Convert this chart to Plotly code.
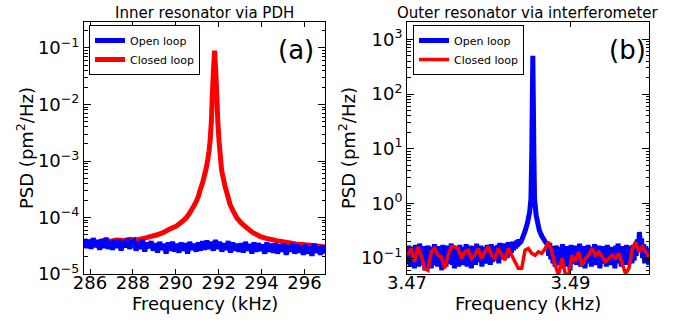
import numpy as np
import plotly.graph_objects as go

# ---------------- Panel (a): inner resonator via PDH ----------------
a_open_f_span = (285.75, 296.95)          # uniform frequency bins (kHz)
a_open_psd_e6 = [                          # PSD in 1e-6 pm^2/Hz
    42, 29, 40, 28, 43, 30, 39, 27, 41, 29, 44, 28, 38,
    27, 40, 29, 41, 26, 38, 30, 42, 28, 37,
    39, 26, 37, 28, 40, 25, 36, 29, 38, 26,
    35, 24, 37, 27, 34, 23, 36, 26, 37, 25,
    34, 24, 36, 26, 35, 23, 37, 27, 34, 25,
    36, 26, 38, 27, 39, 28, 37, 26, 40, 28,
    37, 25, 35, 27, 38, 24, 36, 26, 34, 25,
    35, 24, 37, 26, 34, 23, 36, 25, 35, 26,
    33, 23, 36, 25, 34, 24, 35, 23, 33, 25,
    34, 22, 32, 25, 35, 23, 33, 24, 32, 22,
    33, 23, 31, 21, 34, 24, 30, 22, 32, 23,
]

a_closed_f = [
    285.75, 286.05, 286.35, 286.65, 286.95, 287.25, 287.55, 287.85, 288.15,
    288.45, 288.8, 289.1, 289.4, 289.7, 290.04, 290.3, 290.5, 290.65, 290.8,
    290.9, 291.0, 291.06, 291.13, 291.25, 291.36, 291.43, 291.5, 291.55, 291.6,
    291.66, 291.7, 291.75, 291.81, 291.87, 291.92, 291.96, 292.02, 292.08,
    292.14, 292.22, 292.3, 292.4, 292.53, 292.68, 292.84, 293.05,
    293.3, 293.6, 293.95, 294.3, 294.7, 295.2, 295.6, 296.0, 296.4, 296.95,
]
a_closed_psd = [
    3.6e-5, 3.8e-5, 3.7e-5, 3.9e-5, 3.8e-5, 4.0e-5, 3.9e-5, 4.1e-5, 4.0e-5,
    4.2e-5, 4.6e-5, 4.9e-5, 5.4e-5, 6.2e-5, 7.1e-5, 8.5e-5, 1.0e-4, 1.2e-4, 1.5e-4,
    1.75e-4, 2.1e-4, 2.4e-4, 3.0e-4, 4.1e-4, 6.0e-4, 7.8e-4, 1.1e-3, 1.5e-3, 2.2e-3,
    5.0e-3, 1.3e-2, 3.5e-2, 9.0e-2, 3.5e-2, 1.3e-2, 5.0e-3, 2.2e-3, 1.2e-3,
    6.8e-4, 4.9e-4, 3.5e-4, 2.6e-4, 1.7e-4, 1.3e-4, 1.0e-4, 8.0e-5,
    6.6e-5, 5.4e-5, 4.6e-5, 4.2e-5, 3.9e-5, 3.6e-5, 3.4e-5, 3.3e-5, 3.2e-5, 3.0e-5,
]

# ---------------- Panel (b): outer resonator via interferometer ----------------
b_open_left_span = (3.4700, 3.4838)
b_open_left_e3 = [                         # PSD in 1e-3 pm^2/Hz
    150, 80, 170, 70, 160, 95, 130, 65, 175, 85, 155, 70, 185, 90, 140, 75,
    165, 60, 150, 95, 170, 80, 125, 65, 160, 90, 180, 75, 145, 70, 165, 85,
    135, 60, 175, 95, 155, 70, 170, 80, 140, 90, 185, 75, 150, 65, 165, 100,
    130, 70, 175, 85, 160, 75, 145, 95, 180, 70, 155, 80, 170, 65, 140, 90,
    165, 75, 185, 85, 150, 100, 170, 70, 160, 90, 145, 80, 175, 95, 155, 75,
    180, 85, 165, 100, 150, 90, 175, 80, 190, 105, 160, 95, 185, 110, 170, 100,
    195, 115, 180, 125, 200, 140, 190, 150, 210, 170, 220, 190,
]
b_open_peak_f = [
    3.48395, 3.48420, 3.48447, 3.48475, 3.48500, 3.48516, 3.48526, 3.48533,
    3.48539, 3.48545, 3.48552, 3.48560, 3.48580, 3.48619, 3.48650, 3.48690,
]
b_open_peak = [
    0.2, 0.25, 0.32, 0.45, 0.7, 1.2, 8.0, 80.0,
    500.0, 80.0, 8.0, 1.2, 0.6, 0.32, 0.25, 0.2,
]
b_open_right_span = (3.4872, 3.4996)
b_open_right_e3 = [
    175, 110, 190, 95, 165, 80, 155, 70, 170, 90, 145, 75, 160, 65, 180, 85,
    140, 70, 165, 95, 150, 60, 175, 80, 135, 90, 170, 75, 155, 85, 185, 70,
    145, 95, 165, 65, 150, 80, 175, 90, 140, 70, 160, 85, 180, 75, 150, 95,
    170, 65, 145, 80, 165, 90, 155, 70, 175, 85, 135, 75, 160, 95, 150, 65,
    170, 80, 185, 90, 145, 70, 165, 100, 155, 75, 175, 85, 150, 95, 165, 80,
    175, 90, 160, 110, 220, 130, 300, 150, 230, 100, 180, 80, 165, 95, 150, 75,
]

b_closed_f_span = (3.4701, 3.4996)
b_closed_e3 = [
    113, 150, 86, 161, 113, 65, 60, 130, 150, 113, 106, 65, 113, 161, 161, 150,
    99, 130, 140, 99, 113, 150, 99, 130, 161, 113, 99, 150, 113, 92, 150, 113,
    86, 65, 65, 140, 150,
    122, 113, 130, 122, 150, 198, 130, 74, 49, 99, 52, 49, 113, 86, 130, 74,
    99, 113, 150, 113, 130, 106, 86, 99, 113, 99, 122, 80, 52, 65, 150, 198,
    130, 161, 130, 106,
]

# ---------------- build series ----------------
a_open_f = np.linspace(*a_open_f_span, len(a_open_psd_e6))
a_open_psd = np.array(a_open_psd_e6) * 1e-6

b_open_f = np.concatenate([
    np.linspace(*b_open_left_span, len(b_open_left_e3)),
    np.array(b_open_peak_f),
    np.linspace(*b_open_right_span, len(b_open_right_e3)),
])
b_open_psd = np.concatenate([
    np.array(b_open_left_e3) * 1e-3,
    np.array(b_open_peak),
    np.array(b_open_right_e3) * 1e-3,
])
b_closed_f = np.linspace(*b_closed_f_span, len(b_closed_e3))
b_closed_psd = np.array(b_closed_e3) * 1e-3

BLUE = "#0000ff"
RED = "#ff0000"
FONT = "DejaVu Sans"
W, H = 679, 324

fig = go.Figure()
fig.add_trace(go.Scatter(x=a_closed_f, y=a_closed_psd, mode="lines", name="Closed loop",
                         line=dict(color=RED, width=5, simplify=False), xaxis="x", yaxis="y",
                         legend="legend", legendrank=2))
fig.add_trace(go.Scatter(x=a_open_f, y=a_open_psd, mode="lines", name="Open loop",
                         line=dict(color=BLUE, width=5, simplify=False), xaxis="x", yaxis="y",
                         legend="legend", legendrank=1))
fig.add_trace(go.Scatter(x=b_open_f, y=b_open_psd, mode="lines", name="Open loop",
                         line=dict(color=BLUE, width=5, simplify=False), xaxis="x2", yaxis="y2",
                         legend="legend2", legendrank=1))
fig.add_trace(go.Scatter(x=b_closed_f, y=b_closed_psd, mode="lines", name="Closed loop",
                         line=dict(color=RED, width=3.5, simplify=False), xaxis="x2", yaxis="y2",
                         legend="legend2", legendrank=2))

def minor_vals(e0, e1):
    return [m * 10.0 ** e for e in range(e0, e1 + 1) for m in range(2, 10)]

common_axis = dict(showline=True, linecolor="black", linewidth=1, mirror="allticks",
                   ticks="inside", tickcolor="black", showgrid=False, zeroline=False,
                   automargin=False,
                   tickfont=dict(family=FONT, size=18, color="black"))

y_dom = [50 / H, 302 / H]
fig.update_layout(
    template="none",
    width=W, height=H, margin=dict(l=0, r=0, t=0, b=0, pad=0), autosize=False,
    paper_bgcolor="white", plot_bgcolor="white",
    font=dict(family=FONT, color="black"),
    xaxis=dict(domain=[84 / W, 325 / W], range=[285.72, 296.96], anchor="y",
               tickvals=[286, 288, 290, 292, 294, 296], ticklen=5,
               ticklabelstandoff=-8, **common_axis),
    yaxis=dict(domain=y_dom, type="log", range=[-5.0, -0.54], anchor="x",
               tickvals=[1e-5, 1e-4, 1e-3, 1e-2, 1e-1],
               ticktext=["10<sup>\u22125</sup>", "10<sup>\u22124</sup>", "10<sup>\u22123</sup>",
                         "10<sup>\u22122</sup>", "10<sup>\u22121</sup>"],
               ticklen=7,
               minor=dict(tickvals=minor_vals(-5, -1), ticks="inside", ticklen=3.5,
                          tickcolor="black", showgrid=False),
               **common_axis),
    xaxis2=dict(domain=[407 / W, 649 / W], range=[3.47, 3.4996], anchor="y2",
                tickvals=[3.47, 3.49], ticktext=["3.47", "3.49"], ticklen=5,
                ticklabelstandoff=-8, **common_axis),
    yaxis2=dict(domain=y_dom, type="log", range=[-1.29, 3.316], anchor="x2",
                tickvals=[1e-1, 1e0, 1e1, 1e2, 1e3],
                ticktext=["10<sup>\u22121</sup>", "10<sup>0</sup>", "10<sup>1</sup>",
                          "10<sup>2</sup>", "10<sup>3</sup>"],
                ticklen=7,
                minor=dict(tickvals=minor_vals(-2, 3), ticks="inside", ticklen=3.5,
                           tickcolor="black", showgrid=False),
                **common_axis),
    legend=dict(x=89 / W, y=1 - 25 / H, xanchor="left", yanchor="top",
                bordercolor="black", borderwidth=1, bgcolor="white",
                font=dict(family=FONT, size=11, color="black"), tracegroupgap=0,
                itemwidth=30),
    legend2=dict(x=413 / W, y=1 - 25 / H, xanchor="left", yanchor="top",
                 bordercolor="black", borderwidth=1, bgcolor="white",
                 font=dict(family=FONT, size=11, color="black"), tracegroupgap=0,
                 itemwidth=30),
)

ann = []
ann.append(dict(text="Inner resonator via PDH", x=(84 + 325) / 2 / W, y=1 - 13 / H,
                xref="paper", yref="paper", showarrow=False, font=dict(size=15),
                xanchor="center", yanchor="middle"))
ann.append(dict(text="Outer resonator via interferometer", x=(407 + 649) / 2 / W, y=1 - 13 / H,
                xref="paper", yref="paper", showarrow=False, font=dict(size=15),
                xanchor="center", yanchor="middle"))
ann.append(dict(text="(a)", x=316 / W, y=1 - 50 / H, xref="paper", yref="paper",
                showarrow=False, font=dict(size=26), xanchor="right", yanchor="middle"))
ann.append(dict(text="(b)", x=648 / W, y=1 - 50 / H, xref="paper", yref="paper",
                showarrow=False, font=dict(size=26), xanchor="right", yanchor="middle"))
for xc in (25, 347):
    ann.append(dict(text="PSD (pm<sup>2</sup>/Hz)", x=xc / W, y=1 - 148 / H,
                    xref="paper", yref="paper", showarrow=False, textangle=-90,
                    font=dict(size=18), xanchor="center", yanchor="middle"))
for xc in ((84 + 325) / 2, (407 + 649) / 2):
    ann.append(dict(text="Frequency (kHz)", x=xc / W, y=1 - 303 / H,
                    xref="paper", yref="paper", showarrow=False,
                    font=dict(size=18), xanchor="center", yanchor="middle"))
fig.update_layout(annotations=ann)

fig.write_html("out.html")
